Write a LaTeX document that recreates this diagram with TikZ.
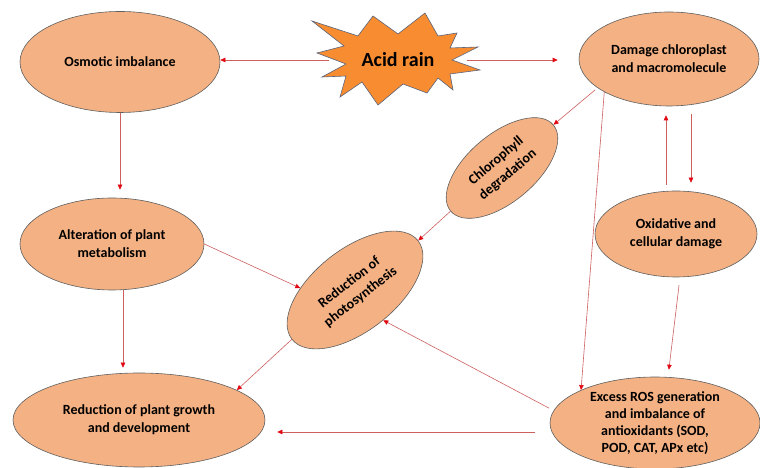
\documentclass[tikz,border=0pt]{standalone}
\usepackage{fontspec}
\setmainfont{Carlito}
\usepackage{xcolor}
\usepackage{tikz}
\usetikzlibrary{shapes.geometric,arrows.meta,calc}
\definecolor{peach}{RGB}{244,177,131}
\definecolor{burstorange}{RGB}{247,140,48}
\definecolor{edgegray}{RGB}{95,95,95}
\definecolor{burstedge}{RGB}{90,100,125}
\definecolor{linkred}{RGB}{205,95,95}
\definecolor{headred}{RGB}{225,10,20}

\begin{document}
\begin{tikzpicture}[x=1pt,y=1pt,>={Triangle[length=5pt,width=4.5pt,color=headred]},
  every node/.style={font=\fontsize{14}{18}\selectfont\bfseries,align=center,inner sep=0pt},
  bubble/.style={ellipse,draw=edgegray,fill=peach,line width=0.6pt},
  link/.style={->,draw=linkred,line width=0.6pt}]
\useasboundingbox (0,0) rectangle (760,468);

\coordinate (rain) at (398,408);
\begin{scope}[shift={(rain)}]
\draw[fill=burstorange,draw=burstedge,line width=0.6pt]
  (-86,39) -- (-40,24) -- (-25,44) -- (0,26) -- (27,47) -- (40,24) -- (59,27) -- (52,12)
  -- (80,13) -- (54,0) -- (82,-10) -- (52,-14) -- (55,-30) -- (40,-18) -- (29,-33) -- (5,-24)
  -- (-20,-45) -- (-36,-22) -- (-58,-37) -- (-52,-16) -- (-76,-17) -- (-52,-4) -- (-81,7)
  -- (-54,14) -- cycle;
\end{scope}
\node[minimum width=137pt,minimum height=20pt,font=\fontsize{20}{22}\selectfont\bfseries] (acid) at (rain) {Acid rain};

\node[bubble,minimum width=200pt,minimum height=101pt] (osmo) at (120,406) {Osmotic imbalance};
\node[bubble,minimum width=180pt,minimum height=94pt] (dmg) at (669,409) {Damage chloroplast\\and macromolecule};
\node[bubble,minimum width=184pt,minimum height=92pt] (alter) at (112,224) {Alteration of plant\\metabolism};
\node[bubble,minimum width=162pt,minimum height=86pt] (oxid) at (676,234) {Oxidative and\\cellular damage};
\node[bubble,minimum width=252pt,minimum height=94pt] (growth) at (139,48) {Reduction of plant growth\\and development};
\node[bubble,minimum width=210pt,minimum height=92pt,font=\fontsize{14}{17}\selectfont\bfseries] (ros) at (655,45) {Excess ROS generation\\and imbalance of\\antioxidants (SOD,\\POD, CAT, APx etc)};
\node[bubble,rotate=40,minimum width=134pt,minimum height=68pt] (chloro) at (502,300) {Chlorophyll\\degradation};
\node[bubble,rotate=38,minimum width=160pt,minimum height=82pt] (photo) at (355,178) {Reduction of\\photosynthesis};

\draw[link] (acid.west) -- (acid.west -| osmo.east);
\draw[link,shorten >=21pt] (acid.east) -- (acid.east -| dmg.west);
\draw[link,shorten >=8pt] (osmo.south) -- (osmo.south |- alter.north);
\draw[link,shorten >=5pt] ([xshift=11pt]alter.south) -- ([xshift=11pt]alter.south |- growth.north);
\draw[link] (alter.east) -- (photo.140);
\draw[link] (photo.west) -- (growth.17);
\draw[link,shorten <=3pt] (dmg.202) -- (chloro.east);
\draw[link] (chloro.west) -- (photo.east);
\draw[link] (dmg.207) -- (ros.156);
\draw[link,shorten <=6pt,shorten >=9pt] ([xshift=-10pt]oxid.north) -- ([xshift=-10pt]oxid.north |- dmg.south);
\draw[link,shorten <=8pt,shorten >=8pt] ([xshift=22pt]dmg.south) -- ([xshift=22pt]dmg.south |- oxid.north);
\draw[link,shorten <=8pt,shorten >=7pt] ([xshift=4pt]oxid.south) -- ([xshift=13pt]ros.north);
\draw[link,shorten <=5pt] (ros.173) -- (photo.-85);
\draw[link,shorten <=15pt,shorten >=12pt] ([yshift=-9pt]ros.west) -- ([yshift=-9pt]ros.west -| growth.east);
\end{tikzpicture}
\end{document}
